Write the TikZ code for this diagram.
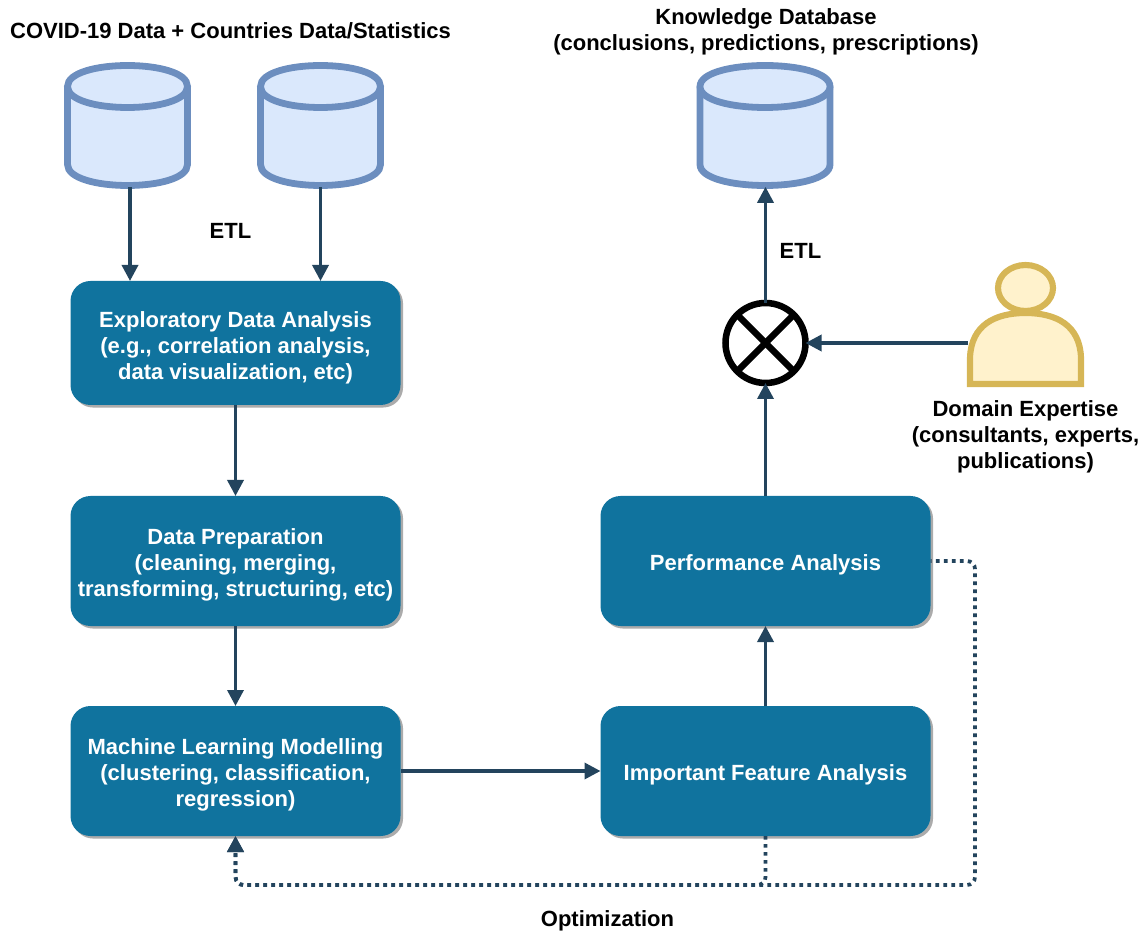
\documentclass[tikz,border=0pt]{standalone}
\usepackage{fontspec}
\setmainfont{Liberation Sans}
\usetikzlibrary{arrows.meta}
\usetikzlibrary{shadows}
\usetikzlibrary{shapes.geometric}
\definecolor{boxblue}{HTML}{10739E}
\definecolor{flowblue}{HTML}{23445D}
\definecolor{dbfill}{HTML}{DAE8FC}
\definecolor{dbline}{HTML}{6C8EBF}
\definecolor{manfill}{HTML}{FFF2CC}
\definecolor{manline}{HTML}{D6B656}
\tikzset{
	stagebox/.style={rectangle,rounded corners=15pt,fill=boxblue,text=white,align=center,inner sep=0pt,outer sep=0pt,
		minimum width=247.5pt,font=\fontsize{16.5}{19.5}\selectfont\bfseries,text height=56pt,
		drop shadow={shadow xshift=1.9pt,shadow yshift=-1.9pt,fill=black!33,opacity=1}},
	dbspot/.style={rectangle,inner sep=0pt,outer sep=0pt,minimum height=92pt},
	dbcan/.style={draw=dbline,fill=dbfill,line width=5.1pt},
	caption/.style={align=center,inner sep=0pt,font=\fontsize{16.5}{19.5}\selectfont\bfseries},
	flow/.style={draw=flowblue,line width=2.6pt,-{Triangle[length=12pt,width=12pt]}},
	loopback/.style={flow,line width=2.8pt,rounded corners=6pt,dash pattern=on 2.8pt off 3.2pt},
	person/.style={draw=manline,fill=manfill,line width=4.6pt}
}
\begin{document}
\begin{tikzpicture}[x=0.75pt,y=-0.75pt]
	\useasboundingbox (0,0) rectangle (1146,937);

	\foreach \name/\x/\r in {source1/127.5/60,source2/320.5/60,knowledge/765/65} {
		\draw[dbcan] (\x-\r,86.5) -- (\x-\r,164.5) .. controls (\x-\r,192.5) and (\x+\r,192.5) .. (\x+\r,164.5) -- (\x+\r,86.5);
		\draw[dbcan] (\x-\r,86.5) .. controls (\x-\r,58.5) and (\x+\r,58.5) .. (\x+\r,86.5) .. controls (\x+\r,114.5) and (\x-\r,114.5) .. cycle;
		\node[dbspot,minimum width=1.5*\r pt] (\name) at (\x,125.5) {};
	}

	\node[stagebox,minimum height=93pt,text height=57.5pt] (eda) at (235.5,343) {Exploratory Data Analysis\\(e.g., correlation analysis,\\data visualization, etc)};
	\node[stagebox,minimum height=97.5pt] (prep) at (235.5,561) {Data Preparation\\(cleaning, merging,\\transforming, structuring, etc)};
	\node[stagebox,minimum height=97.5pt] (ml) at (235.5,771) {Machine Learning Modelling\\(clustering, classification,\\regression)};
	\node[stagebox,minimum height=97.5pt,text height=17.5pt] (perf) at (765.5,561) {Performance Analysis};
	\node[stagebox,minimum height=97.5pt,text height=17.5pt] (feature) at (765.5,771) {Important Feature Analysis};

	\node[circle,draw=black,fill=white,line width=4.9pt,inner sep=0pt,outer sep=0pt,minimum size=60pt] (merge) at (765.5,343) {};
	\draw[black,line width=4.9pt] (merge.45) -- (merge.225);
	\draw[black,line width=4.9pt] (merge.135) -- (merge.315);

	\node[ellipse,person,inner sep=0pt,outer sep=0pt,minimum width=41.25pt,minimum height=34.5pt] (head) at (1025.5,288) {};
	\draw[person] (970,384) -- (970,358) .. controls (971,325) and (995,313) .. (1025.5,313) .. controls (1056,313) and (1080,325) .. (1081,358) -- (1081,384) -- cycle;
	\coordinate (expert) at (968,343);

	\node[caption] (titledata) at (230.5,31) {COVID-19 Data + Countries Data/Statistics};
	\node[caption] (titleknow) at (766,32) {Knowledge Database\\(conclusions, predictions, prescriptions)};
	\node[caption] (etlleft) at (230.5,231) {ETL};
	\node[caption] (etlright) at (800.5,251) {ETL};
	\node[caption] (titleexpert) at (1025.5,437) {Domain Expertise\\(consultants, experts,\\publications)};
	\node[caption] (titleopt) at (607.5,921) {Optimization};

	\coordinate (edain) at (130,281);
	\draw[flow] (source1.south -| edain) -- (edain);
	\draw[flow] (source2.south) -- (source2.south |- eda.north);
	\draw[flow] (eda) -- (prep);
	\draw[flow] (prep) -- (ml);
	\draw[flow] (ml) -- (feature);
	\draw[flow] (feature) -- (perf);
	\draw[flow] (perf) -- (merge);
	\draw[flow] (merge) -- (merge |- knowledge.south);
	\draw[flow] (expert) -- (merge);

	\coordinate (turn1) at (235.5,885);
	\coordinate (turn2) at (975,885);
	\draw[loopback] (feature.south) |- (turn1) -- (turn1 |- ml.south);
	\draw[loopback,dash phase=2pt] (perf.east) -| (turn2) -- (turn1) -- (turn1 |- ml.south);
\end{tikzpicture}
\end{document}
